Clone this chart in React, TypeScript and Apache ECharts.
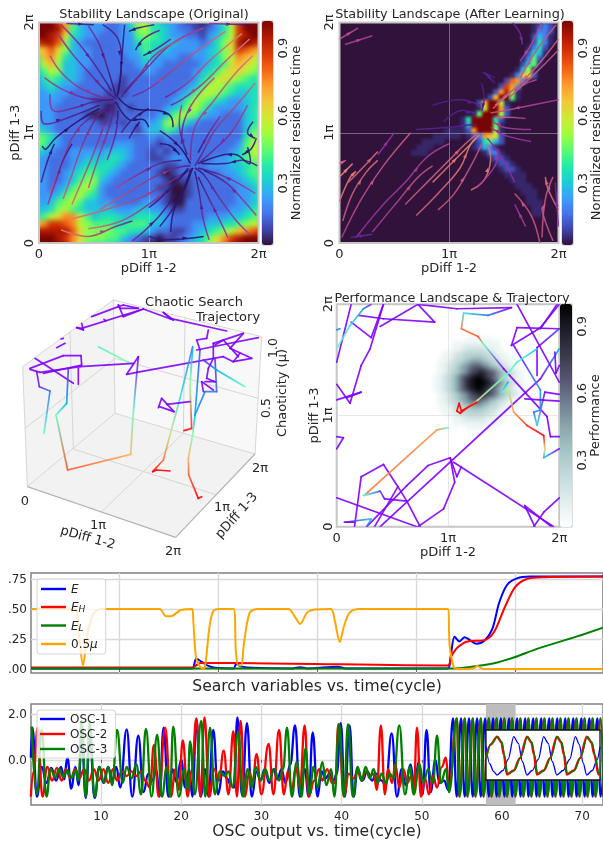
import React, { useEffect, useRef } from "react";
import * as echarts from "echarts";

const FONT = "DejaVu Sans";
const INK = "#262626";

// ---------- residence-time landscape (original): hex digits, top row first, value = digit / 15
const heatOriginal = [
  "fffd964333223578643321101469dfff",
  "fffeb64333223478554322112358dfff",
  "ffed954332223367654332213468deff",
  "deec743222223356554433323579efed",
  "9ac974332222334654433333 4579dcba".replace(" ", ""),
  "6ab8543322222335433322334578ba98",
  "58a7443322222234332222234569a987",
  "46874432222222233222223456899876",
  "35654432222212222222223568987656",
  "34543322222112222222234688765555",
  "33433222221112222222346887654455",
  "33332222111122222223468765433455",
  "33322222210121222234578643333456",
  "33322221001122222346876433222456",
  "43322222211212233478643222222456",
  "54322222222222134465322222222467",
  "76532222222222223232222222222577",
  "76432222222333222122222222223688",
  "54322333334443221212222222234688",
  "33222334445543221123322223345677",
  "33222345555432222211222233344566",
  "33223456654322222101222222334566",
  "33223467743222222210112222233456",
  "33234678632222222110012222223345",
  "33346786532222222210012222223345",
  "43467864433222233210022222223345",
  "44578654444333443321122222233456",
  "5689bb86455544555432222233344567",
  "9bddcb87666556664432223344556789",
  "eeeeec9777766554322112345678abcd",
  "fffedb97776643211011234579bdefff",
  "ffffeb865554321100112345 79cefff".replace(" ", ""),
];

// ---------- residence-time landscape (after learning): [row, first column, hex digits] on a 40 x 40 lattice
const heatLearnedLevels = [0, 0.03, 0.09, 0.16, 0.25, 0.33, 0.42, 0.5, 0.58, 0.66, 0.72, 0.78, 0.84, 0.9, 0.95, 1];
const heatLearned: [number, number, string][] = [
  [0, 35, "1232"], [1, 35, "1332"], [2, 35, "2431"], [3, 35, "2531"], [4, 34, "1352"],
  [5, 34, "2541"], [6, 33, "1362"], [7, 33, "2561"], [8, 32, "1471"], [9, 31, "13982"],
  [10, 30, "2ba3"], [11, 29, "2ca4"], [12, 28, "2ad71"], [13, 27, "29ff61"], [14, 25, "29ff71"],
  [15, 25, "18ffa2"], [16, 24, "16fff72"], [17, 22, "15ffff52"], [18, 22, "14ffff61"], [19, 22, "12afff71"],
  [20, 23, "123a982"], [21, 24, "125642"], [22, 24, "12431"], [23, 26, "1331"], [24, 27, "1221"],
  [25, 28, "1221"], [26, 29, "1221"], [27, 30, "1111"], [28, 31, "111"], [29, 32, "111"],
  [30, 33, "111"], [31, 34, "11"], [32, 34, "111"], [33, 35, "11"], [34, 35, "11"],
  [19, 19, "111"], [20, 17, "11111"], [21, 15, "1111"], [22, 14, "111"], [23, 13, "111"],
];

// ---------- performance landscape: [row, first column, hex digits] on a 60 x 60 lattice, value = digit / 15
const heatPerformance: [number, number, string][] = [
  [9, 25, "000000000011111110000000000"],
  [10, 25, "000000111111111111100000000"],
  [11, 25, "000000111222222111100000000"],
  [12, 25, "000001112233333221110000000"],
  [13, 25, "000111233444444332111000000"],
  [14, 25, "000111233445554433211100000"],
  [15, 25, "001112344567776544321110000"],
  [16, 25, "001123345779997754332110000"],
  [17, 25, "00112345779abba977543211000"],
  [18, 25, "00112344679bbddbb9764432110"],
  [19, 25, "011234579abdeedba9754321100"],
  [20, 25, "011234579bdeffedb9754321100"],
  [21, 25, "011234579bdefffedb975432110"],
  [22, 25, "011234579bdeffedb9754321100"],
  [23, 25, "011234579abdeedba9754321100"],
  [24, 25, "00112344679bbddbb9764432110"],
  [25, 25, "00112345779abba977543211000"],
  [26, 25, "001123345779997754332110000"],
  [27, 25, "001112344567776544321110000"],
  [28, 25, "000111233445554433211100000"],
  [29, 25, "000111233444444332111000000"],
  [30, 25, "000001112233333221110000000"],
  [31, 25, "000000111222222111100000000"],
  [32, 25, "000000111111111111100000000"],
  [33, 25, "000000000011111110000000000"],
];

// ---------- streamlines, in units of pi: [[speed at start, speed at end], [x, y], ...]
type Stream = number[][];
const streamsOriginal: Stream[] = [
  [[.55,.25],[.17,1.9],[.3,1.72],[.45,1.55],[.62,1.37],[.7,1.31]],
  [[.5,.2],[.2,1.98],[.37,1.8],[.52,1.6],[.66,1.38]],
  [[.45,.15],[.45,1.97],[.55,1.8],[.62,1.6],[.7,1.33]],
  [[.3,.15],[.58,1.98],[.72,1.85],[.75,1.6],[.72,1.35]],
  [[.25,.1],[.78,1.98],[.76,1.75],[.74,1.5],[.71,1.32]],
  [[.65,.4],[.1,1.7],[.2,1.55],[.35,1.42],[.55,1.33],[.68,1.3]],
  [[.6,.3],[.05,1.5],[.2,1.4],[.4,1.32],[.6,1.3]],
  [[.5,.2],[.1,1.35],[.13,1.2],[.3,1.22],[.5,1.28],[.68,1.3]],
  [[.4,.15],[.02,1.2],[.05,1.08],[.3,1.15],[.55,1.25]],
  [[.1,.1],[.03,.88],[.06,.85],[.15,.95],[.35,1.1],[.55,1.22]],
  [[.7,.25],[.1,.45],[.2,.7],[.3,.95],[.42,1.1],[.6,1.2],[.7,1.28]],
  [[.75,.3],[.22,.4],[.3,.62],[.4,.9],[.5,1.1],[.62,1.24]],
  [[.8,.3],[.3,.35],[.45,.7],[.55,.95],[.62,1.15],[.68,1.26]],
  [[.7,.3],[.45,.5],[.55,.8],[.64,1.05],[.69,1.25]],
  [[.5,.2],[.62,.75],[.7,1.0],[.72,1.2]],
  [[.3,.15],[.02,.55],[.08,.75],[.14,.9]],
  [[.55,.2],[.08,.35],[.15,.55],[.22,.75],[.3,.9]],
  [[.1,.05],[.72,1.32],[.85,1.22],[1.1,1.2],[1.2,1.15],[1.22,1.05]],
  [[.15,.05],[.7,1.28],[.82,1.12],[.95,1.12],[1.0,1.05]],
  [[.3,.1],[.75,1.0],[.85,1.12],[1,1.22]],
  [[.3,.1],[.82,.95],[.88,1.05],[.92,1.1]],
  [[.85,.3],[.3,.22],[.6,.3],[.9,.4],[1.1,.5],[1.3,.62],[1.4,.68]],
  [[.8,.25],[.45,.13],[.75,.2],[1.0,.35],[1.2,.5],[1.35,.65]],
  [[.75,.3],[.55,.3],[.8,.45],[1.05,.6],[1.25,.68],[1.38,.7]],
  [[.6,.2],[.7,.5],[.9,.62],[1.1,.72],[1.3,.75]],
  [[.85,.35],[.2,.12],[.45,.06],[.7,.15],[.85,.2]],
  [[.4,.15],[.85,.02],[.95,.1],[1.1,.25],[1.25,.45]],
  [[.25,.1],[1,.32],[1.1,.4],[1.25,.55],[1.36,.68]],
  [[.2,.08],[1.1,.15],[1.2,.28],[1.3,.45],[1.38,.66]],
  [[.15,.05],[1.2,.1],[1.23,.3],[1.33,.5],[1.4,.68]],
  [[.2,.08],[1.0,.06],[1.15,.03],[1.5,.06]],
  [[.6,.2],[1.92,.08],[1.8,.2],[1.65,.4],[1.5,.62],[1.42,.68]],
  [[.55,.2],[1.72,.05],[1.65,.2],[1.55,.4],[1.45,.6]],
  [[.5,.15],[1.55,.03],[1.5,.2],[1.46,.45],[1.42,.65]],
  [[.6,.2],[1.98,.25],[1.85,.4],[1.7,.55],[1.5,.66]],
  [[.6,.2],[1.97,.45],[1.8,.55],[1.65,.62],[1.45,.68]],
  [[.35,.1],[1.99,.7],[1.85,.75],[1.7,.72],[1.48,.72]],
  [[.2,.1],[1.9,.87],[1.92,.72],[1.8,.8],[1.68,.8],[1.45,.72]],
  [[.2,.1],[1.98,.95],[1.93,.85],[1.85,.8]],
  [[.85,.4],[1.92,1.85],[1.7,1.65],[1.5,1.45],[1.3,1.3],[1.2,1.25]],
  [[.85,.4],[1.95,1.7],[1.8,1.55],[1.6,1.3],[1.42,1.05],[1.38,.75]],
  [[.9,.4],[1.85,1.9],[1.55,1.65],[1.35,1.45],[1.15,1.32]],
  [[.8,.4],[1.7,1.92],[1.45,1.75],[1.2,1.55],[1.0,1.4],[.85,1.33]],
  [[.6,.3],[1.5,1.95],[1.2,1.8],[.95,1.55],[.8,1.4],[.75,1.32]],
  [[.7,.3],[1.3,1.85],[1.05,1.7],[.9,1.5],[.78,1.36]],
  [[.4,.15],[1.1,1.93],[.95,1.85],[.88,1.75]],
  [[.3,.1],[1.05,1.98],[.9,1.95],[.82,1.92]],
  [[.4,.15],[1.2,1.85],[1.05,1.75],[.95,1.7]],
  [[.75,.3],[1.97,1.45],[1.8,1.25],[1.6,1.02],[1.48,.8],[1.42,.7]],
  [[.6,.3],[1.9,1.25],[1.75,1.0],[1.6,.85],[1.45,.72]],
  [[.5,.2],[1.65,1.15],[1.55,1.0],[1.45,.82]],
  [[.7,.3],[1.6,1.5],[1.42,1.3],[1.32,1.1],[1.3,.9]],
  [[.6,.2],[1.3,1.25],[1.28,1.05],[1.35,.8]],
  [[.2,.05],[1.1,1.02],[1.2,.95],[1.3,.85],[1.38,.72]],
  [[.15,.05],[1.1,.9],[1.2,.88],[1.28,.8]],
  [[.3,.1],[1.95,1.1],[1.9,1.0],[1.97,.95]],
  [[.4,.2],[.25,1.99],[.5,1.98]],
  [[.55,.2],[1.55,1.99],[1.9,1.98]],
];

const streamsLearned: Stream[] = [
  [[.6,.75],[.02,.05],[.2,.4],[.4,.7],[.65,1.0]],
  [[.7,.8],[.03,.2],[.12,.45],[.25,.65],[.35,.75]],
  [[.8,.9],[0,.38],[.1,.6],[.15,.65]],
  [[.9,.85],[0,.6],[.12,.72]],
  [[.7,.8],[.08,.55],[.2,.67],[.35,.83]],
  [[.8,.7],[0,.72],[.06,.75]],
  [[.5,.6],[.15,.05],[.4,.35],[.6,.55],[.8,.78],[1.0,.9]],
  [[.55,.7],[.3,.1],[.55,.4],[.72,.6],[.85,.7]],
  [[.7,.8],[.6,.35],[.8,.55],[1,.75],[1.15,.9],[1.27,1]],
  [[.75,.85],[.7,.25],[.9,.45],[1.1,.68],[1.2,.9],[1.28,.98]],
  [[.8,.9],[.85,.55],[1.0,.7],[1.1,.8],[1.25,.95]],
  [[.7,.7],[.9,.3],[1.05,.45],[1.2,.7],[1.3,.9]],
  [[.85,.8],[1.2,.48],[1.32,.57],[1.38,.75],[1.35,.9]],
  [[.6,.5],[1.25,.5],[1.42,.7],[1.45,.85]],
  [[.5,.5],[.35,.8],[.5,1.0]],
  [[.35,.4],[.1,.05],[.3,.08]],
  [[.3,.35],[.85,1.25],[1.1,1.3],[1.28,1.25]],
  [[.3,.35],[.95,1.1],[1.1,1.2],[1.25,1.17]],
  [[.35,.3],[.7,1.03],[1.0,1.05],[1.25,1.08]],
  [[.3,.3],[1.3,1.45],[1.32,1.3],[1.3,1.2]],
  [[.25,.3],[1.3,1.55],[1.42,1.5]],
  [[.55,.85],[1.7,1.13],[1.5,1.14],[1.42,1.13]],
  [[.55,.55],[1.75,1.03],[1.5,1.05],[1.4,1.1]],
  [[.5,.5],[1.75,.92],[1.5,.98],[1.38,1.05]],
  [[.55,.7],[2,1.3],[1.75,1.25],[1.5,1.2],[1.38,1.18]],
  [[.6,.7],[1.8,1.48],[1.6,1.4],[1.42,1.25]],
  [[.7,.8],[2,1.85],[1.8,1.6],[1.6,1.4],[1.4,1.22]],
  [[.7,.7],[2,1.75],[1.8,1.55],[1.55,1.32]],
  [[.7,.7],[1.98,1.98],[1.8,1.75],[1.65,1.5]],
  [[.65,.6],[1.85,2],[1.75,1.8],[1.65,1.65]],
  [[.4,.4],[1.58,2],[1.65,1.9],[1.67,1.8]],
  [[.35,.3],[1.32,1.55],[1.42,1.45]],
  [[.7,.6],[0,1.85],[.17,1.95]],
  [[.6,.6],[.05,1.8],[.3,1.88]],
  [[.7,.7],[1.83,0],[1.75,.25],[1.6,.45]],
  [[.7,.7],[1.95,.02],[1.85,.3],[1.88,.35]],
  [[.75,.8],[2,.3],[1.9,.5],[1.88,.6]],
  [[.7,.7],[1.85,.05],[1.88,.4],[1.95,.6]],
  [[.6,.5],[1.7,.15],[1.6,.35]],
  [[.5,.4],[2,.15],[1.97,.55]],
  [[.5,.45],[1.6,.55],[1.48,.78],[1.35,.95]],
];

// ---------- trajectory over the performance landscape: [pDiff 1-2 / pi, pDiff 1-3 / pi, mu]
const trajectoryMap: number[][][] = [
  [[0,1.48,1],[.13,2,1]],
  [[.13,1.84,1],[.31,1.7,1],[.42,2,1]],
  [[.2,1.9,1],[.42,1.87,1],[.88,1.84,1],[.73,2,1],[.39,1.8,1]],
  [[.42,2,1],[.3,1.6,1],[.22,1.45,1],[.12,1.11,1],[0,1.28,1]],
  [[0,1.14,1],[.22,1.21,1],[.09,1.16,1]],
  [[0,1.6,.55],[.12,1.81,.65],[.24,1.96,.8],[.31,2,1]],
  [[0,1.77,.8],[.03,1.78,.85]],
  [[.73,2,1],[1.08,1.96,1],[1.57,1.97,1]],
  [[1.57,1.97,1],[1.36,1.9,.85],[1.14,1.92,.65],[1.12,1.78,.15],[1.27,1.71,.1],[1.32,1.64,.55],[1.5,1.42,1],[1.89,.99,1],[1.92,.81,1],[2,.81,1]],
  [[.39,0,1],[1.83,1.33,1],[2,1.6,.75]],
  [[0,.26,1],[.72,0,1]],
  [[1.02,.62,1],[1.08,.45,1],[1.12,.54,1]],
  [[1.05,.58,1],[1.95,0,1]],
  [[.73,0,1],[.96,.16,1],[1.06,.4,1],[1.02,.62,1],[.82,.55,1],[.63,.37,1],[.27,0,1]],
  [[.22,.45,1],[.42,.56,1],[.55,.36,1],[.34,0,1]],
  [[.22,.45,1],[.16,0,1]],
  [[.55,.36,1],[.63,.23,1],[.75,0,1]],
  [[1,.89,.6],[.9,.87,.2],[.28,.31,.15],[.24,.28,.55],[.39,.32,.9],[.43,.25,1],[.63,.23,1]],
  [[.07,.04,1],[.31,.07,.7],[.27,0,.9]],
  [[.07,.04,1],[.16,.04,1]],
  [[0,.81,1],[.06,.8,1],[0,.7,1]],
  [[1.69,.19,1],[1.93,0,1]],
  [[1.69,.19,1],[1.78,0,1]],
  [[2,.26,1],[1.86,.13,1],[1.77,0,1]],
  [[1.57,1.63,1],[1.62,1.79,1],[2,1.78,1]],
  [[1.62,2,1],[2,1.3,1]],
  [[1.57,1.63,1],[1.83,1.79,1],[2,2,1]],
  [[1.83,1.78,1],[1.98,2,1]],
  [[2,1.78,.9],[1.8,1.61,1],[1.8,1.36,1]],
  [[1.59,1.63,1],[1.83,1.23,.8],[1.83,1.05,.8],[1.77,1.03,.85],[1.8,.91,.65],[1.87,1.21,1],[2,1.19,1]],
  [[1.69,1.15,1],[2,1.13,1]],
  [[1.96,1.57,1],[1.97,1.38,1],[2,1.45,1]],
  [[1.54,1.24,.4],[1.59,1.03,.2],[1.71,.91,.05],[1.86,.82,0],[1.87,.7,.3],[1.86,.62,.7],[2,.7,1]],
  [[1.54,1.3,.75],[1.48,1.21,.6],[1.54,1.24,.4]],
  [[1.8,1.6,.7],[1.62,1.48,.6],[1.54,1.38,.55],[1.27,1.14,.35],[1.11,1.02,0],[1.08,1.04,0],[1.1,1.11,0],[1.12,1.04,0],[1.26,1.12,0]],
];

// ---------- 3D view: the plot plane of the box, [view x, view y, mu]
const trajectoryView: number[][][] = [
  [[275,95,1],[355,65,1],[370,60,1],[415,70,1],[360,70,1],[355,60,1],[370,95,1],[430,72,1],[245,130,1],[230,128,1],[250,135,1],[245,115,1]],
  [[430,72,1],[520,105,1],[490,82,1],[510,100,1],[680,138,1]],
  [[170,188,1],[195,175,1]],
  [[183,162,1],[190,160,1]],
  [[312,103,1],[318,108,1]],
  [[295,185,.6],[400,240,.45]],
  [[105,220,1],[220,295,1]],
  [[90,250,1],[190,212,1],[243,212,1],[245,240,1],[130,265,1]],
  [[110,260,1],[118,305,.95],[150,318,.85],[132,445,.55]],
  [[90,253,1],[120,262,1],[240,245,1],[400,235,1]],
  [[235,298,1],[235,250,1]],
  [[205,250,.95],[200,355,.75],[168,390,.55],[203,555,.1],[392,508,.25],[400,380,.55],[415,215,1],[380,268,1],[410,262,1],[670,215,1],[700,230,1]],
  [[775,158,1],[590,195,1]],
  [[625,135,1],[620,160,1],[590,165,1],[600,195,1]],
  [[578,185,.85],[540,340,.65],[510,450,.35],[490,525,.15],[458,560,0],[470,555,0],[510,558,0]],
  [[578,190,.75],[570,300,.45],[575,430,.05],[552,437,0]],
  [[600,195,.9],[585,390,.75],[578,450,.5],[565,520,.25],[566,570,.12],[595,640,0],[605,635,0]],
  [[585,390,.8],[615,320,.85],[650,320,.85],[645,220,.95]],
  [[735,305,.55],[650,255,.75],[610,225,.95]],
  [[640,175,1],[730,145,1],[690,190,1],[755,220,1],[700,230,1],[720,205,1]],
  [[640,175,1],[640,220,1],[625,250,1],[620,280,1],[645,290,1],[615,290,1]],
  [[645,180,1],[670,165,1],[715,215,1]],
  [[610,320,1],[605,290,1],[640,315,1]],
  [[475,368,1],[485,340,1],[522,380,1],[478,365,1]],
  [[500,358,1],[570,350,1]],
];

const boxFaces: number[][][] = [
  [[68,245],[340,45],[345,385],[82,605]],
  [[340,45],[785,155],[765,507],[345,385]],
  [[82,605],[345,385],[765,507],[527,757]],
];
const boxEdges: number[][] = [
  [82,605,345,385,0],[345,385,765,507,0],[345,385,340,45,0],[68,245,82,605,0],[785,155,765,507,0],
  [68,245,340,45,0],[340,45,785,155,0],[210,140,220,492,0],[555,100,550,445,0],[75,430,345,220,0],
  [345,220,775,340,0],[220,492,650,630,0],[305,680,550,445,0],[82,605,527,757,1],[527,757,765,507,1],
];

// ---------- search variables, x = cycle on the top strip's own ticks
const searchTicks = [10, 20, 30, 40, 50];
const valueTicks = [0, 0.25, 0.5, 0.75];
const muHalf = [[1.1,.5],[5.53,.5],[5.92,.3],[6.35,.03],[6.82,.3],[7.48,.47],[8.25,.5],[14.08,.5],[14.74,.44],[15.24,.44],[16.2,.49],[17.38,.5],[17.5,.4],[17.77,.1],[18.16,.02],[18.54,0],[18.74,.05],[19.13,.35],[19.5,.48],[20.1,.5],[21.57,.5],[21.8,.15],[22.04,.03],[22.35,.03],[22.6,.2],[23.2,.47],[24,.5],[27.1,.5],[27.8,.43],[28.3,.375],[29,.47],[29.8,.495],[31.4,.5],[31.8,.4],[32.3,.225],[32.7,.35],[33.3,.47],[34.3,.5],[43.2,.5],[43.4,.2],[43.8,.02],[44.2,0],[45.8,.005],[46.2,.025],[46.8,0],[58.9,0]];
const energyE = [[1.1,.005],[17.3,.005],[17.5,.01],[17.8,.085],[18.35,.06],[18.9,.03],[19.7,.01],[21.6,.005],[21.8,.04],[22.4,.02],[23.5,.01],[27.5,.005],[28.3,.015],[29,.005],[32.1,.02],[32.9,.005],[43.2,.005],[43.5,.1],[43.9,.27],[44.4,.23],[44.9,.265],[45.3,.25],[46.1,.21],[46.9,.235],[47.7,.33],[48.4,.55],[49.2,.7],[50.2,.755],[51.5,.77],[58.9,.77]];
const energyH = [[1.1,.012],[17.3,.012],[17.6,.02],[18.2,.05],[21.3,.05],[43.2,.03],[43.6,.11],[44.2,.18],[45.2,.23],[46.9,.24],[47.9,.31],[48.9,.5],[50,.68],[51.2,.75],[53.1,.765],[58.9,.77]];
const energyL = [[1.1,.005],[43.8,.005],[45.3,.015],[48,.05],[50,.1],[52.3,.17],[56.2,.27],[58.9,.345]];

// ---------- oscillator outputs
const oscTicks = [10, 20, 30, 40, 50, 60, 70];
const oscValueTicks = [0, 2];
const osc1 = [[1.25,.1],[1.45,1.4],[2,-1.6],[2.6,-.3],[3.2,-1],[3.8,-.35],[4.4,-.9],[5,-.3],[5.4,-.85],[5.8,.1],[6.3,-1.25],[6.8,-.3],[7.2,-1.1],[7.6,1],[8.1,-1.65],[8.6,1],[9.2,-1.65],[9.8,-.3],[10.3,-1],[10.9,-.3],[11.4,-.9],[11.9,-.3],[12.4,-1.2],[13.2,1.33],[13.9,-1.6],[14.65,1.05],[15.3,-1.4],[15.9,-.6],[16.4,-.9],[16.9,-.45],[17.3,-1.6],[17.8,1.4],[18.4,-1.6],[18.9,-.4],[19.4,-.95],[20,0],[20.5,-1.2],[21,-.4],[21.4,-1.6],[21.9,1.75],[22.4,-1.6],[23,-.4],[23.4,-1.6],[24,1.3],[24.6,-1.5],[25.2,-.5],[25.7,-.8],[26.2,-1.1],[26.6,-1.2],[27,1.85],[27.6,-1.55],[28.2,1.6],[28.8,-1.6],[29.4,-.5],[29.9,-.9],[30.4,-.4],[31,-1],[31.5,-.4],[32,-.85],[32.5,-.4],[33,-1],[33.6,-.2],[34.2,1.5],[34.8,-1.6],[35.4,-.4],[35.9,-1.6],[36.4,1.2],[37,-1.6],[37.5,-.5],[38,-.8],[38.5,-.6],[39,-.9],[39.4,-.6],[39.9,1.6],[40.4,-1.6],[41,1.5],[41.5,-1.6],[42,-.4],[42.6,-.9],[43.2,-.5],[43.8,-.9],[44.3,-.6],[45,-.9],[45.5,-1.1],[46.25,1.15],[46.9,-1.6],[47.5,-.4],[48,-1.1],[48.6,-.2],[49.1,-1.2],[49.6,-.1],[50.1,-1.5],[50.6,1.3],[51.1,-1.4],[51.7,0],[52.2,-1],[52.8,-.9],[53.3,-1.3],[53.9,1.8],[54.35,-1.6],[54.9,1.8],[55.35,-1.6],[55.9,1.8],[56.35,-1.6],[56.9,1.8],[57.35,-1.6],[57.9,1.8],[58.36,-1.6],[58.9,1.8],[59.33,-1.6],[59.87,1.8],[60.3,-1.6],[60.9,1.8],[61.27,-1.6],[61.9,1.8],[62.3,-1.6],[62.9,1.8],[63.3,-1.6],[63.9,1.8],[64.3,-1.6],[64.9,1.8],[65.3,-1.6],[65.9,1.8],[66.3,-1.6],[66.9,1.8],[67.3,-1.6],[67.9,1.8],[68.3,-1.6],[68.9,1.8],[69.3,-1.6],[69.9,1.8],[70.3,-1.6],[70.9,1.8],[71.3,-1.6],[71.9,1.8],[72.3,-1.6],[72.9,1.8]];
const osc2 = [[1.25,-1.6],[1.6,-.5],[2.1,1.4],[2.7,-1.6],[3.3,-.3],[3.9,-.9],[4.5,-.35],[5.1,-.9],[5.6,-.4],[6.2,-.8],[6.8,-.4],[7.3,-.8],[7.9,-.4],[8.5,-.9],[9.1,-.4],[9.7,-.9],[10.3,-.4],[10.9,-1],[11.5,-.4],[12,-.9],[12.6,-.5],[13.2,-.7],[13.8,-.5],[14.4,-.7],[15,-.5],[15.5,-.9],[16.1,-1.2],[16.6,.65],[17.2,-1.6],[18,1.4],[18.7,-1.6],[19.3,-.4],[19.7,-1.3],[20.2,.85],[20.8,-1.6],[21.3,-.5],[21.9,1.8],[22.4,-1.6],[22.9,1.85],[23.5,-1.6],[24.1,-.4],[24.7,-.9],[25.3,.4],[25.9,-1.5],[26.5,1.25],[26.95,-1.6],[27.4,1.7],[27.95,-1.6],[28.5,-.5],[28.9,-1],[29.4,.25],[30,-1.5],[30.9,.7],[31.5,-1.5],[32.2,1.3],[32.8,-1.5],[33.3,-.5],[33.8,-1.3],[34.3,-.3],[34.8,-1.2],[35.4,1.5],[35.9,-1.6],[36.6,-.9],[37.2,-.4],[37.6,-.9],[38.2,-.4],[38.8,-1],[39.2,-1],[39.6,1.55],[40.3,-1.6],[40.9,-.6],[41.5,-.8],[42,-.5],[42.5,-.9],[43,-.5],[43.5,-.7],[44,-.6],[44.4,-1.3],[44.9,1.5],[45.4,-1.5],[45.8,-.4],[46.3,-1],[46.7,-.2],[47.2,-1.2],[47.7,-.4],[48.2,-1],[48.7,-.7],[49,-1.4],[49.4,1.4],[49.9,-1.6],[50.4,-.8],[50.9,-1.5],[51.4,-.7],[51.9,-1.2],[52.5,-.3],[53,.1],[53.4,-1.2],[54.36,1.8],[54.68,-1.6],[55.36,1.8],[55.68,-1.6],[56.36,1.8],[56.68,-1.6],[57.36,1.8],[57.68,-1.6],[58.36,1.8],[58.68,-1.6],[59.33,1.8],[59.65,-1.6],[60.3,1.8],[60.62,-1.6],[61.27,1.8],[61.65,-1.6],[62.3,1.8],[62.65,-1.6],[63.3,1.8],[63.65,-1.6],[64.3,1.8],[64.65,-1.6],[65.3,1.8],[65.65,-1.6],[66.3,1.8],[66.65,-1.6],[67.3,1.8],[67.65,-1.6],[68.3,1.8],[68.65,-1.6],[69.3,1.8],[69.65,-1.6],[70.3,1.8],[70.65,-1.6],[71.3,1.8],[71.65,-1.6],[72.3,1.8],[72.65,-1.6]];
const osc3 = [[1.35,1.45],[2,-1.5],[2.6,1.3],[3.2,-1.6],[3.7,-.4],[4.3,-.75],[4.8,-.4],[5.3,-.75],[5.8,-.45],[6.3,-.8],[6.8,-.45],[7.2,-.9],[7.6,1.7],[8.1,-1.6],[8.6,1.7],[9.2,-1.6],[9.8,-.3],[10.4,-1],[10.9,-.3],[11.4,-1.1],[12,1.3],[12.7,-1],[13.2,-.3],[13.8,-.8],[14.4,-.2],[15,-1.5],[15.6,1.35],[16.3,-1.6],[17,1.1],[17.6,-1.6],[18.2,-.3],[18.6,-1.6],[19,1.45],[19.7,-1.6],[20.4,-.4],[20.8,-1.3],[21.1,.8],[21.7,-1.5],[22.5,1.7],[23,-1.6],[23.6,1.4],[24.2,-1.5],[24.8,-.5],[25.4,-.7],[25.9,-.5],[26.4,-1.2],[27.1,1.2],[27.7,-1.6],[28.3,-.4],[28.8,-1.2],[29.3,-.3],[29.9,-.9],[30.5,-.4],[31,-.9],[31.6,-.4],[32.2,-.9],[32.7,-.4],[33.2,1.4],[33.8,-1.6],[34.4,-.1],[35,-1.6],[35.5,.5],[36,-1.5],[36.5,-.3],[37,-1.2],[37.6,-.1],[38.1,-1.1],[38.7,-.4],[39.1,-1.6],[39.7,1.55],[40.3,-1.6],[40.8,1.55],[41.4,-1.6],[42,-.3],[42.5,-.9],[43,-.3],[43.5,-.8],[44,-.4],[44.5,-1],[45,-.6],[45.5,-1],[46,-.6],[46.5,-.8],[47.2,1.5],[47.9,-1.5],[48.5,-.3],[49,-1.5],[49.7,-.2],[50.2,-1],[50.8,-.4],[51.4,-1],[51.9,1.05],[52.4,-1],[53,-.4],[53.4,-1.4],[54.38,1.8],[54.7,-1.6],[55.38,1.8],[55.7,-1.6],[56.38,1.8],[56.7,-1.6],[57.38,1.8],[57.7,-1.6],[58.38,1.8],[58.7,-1.6],[59.35,1.8],[59.67,-1.6],[60.32,1.8],[60.64,-1.6],[61.29,1.8],[61.67,-1.6],[62.32,1.8],[62.67,-1.6],[63.32,1.8],[63.67,-1.6],[64.32,1.8],[64.67,-1.6],[65.32,1.8],[65.67,-1.6],[66.32,1.8],[66.67,-1.6],[67.32,1.8],[67.67,-1.6],[68.32,1.8],[68.67,-1.6],[69.32,1.8],[69.67,-1.6],[70.32,1.8],[70.67,-1.6],[71.32,1.8],[71.67,-1.6],[72.32,1.8],[72.67,-1.6]];
const insetOsc1 = [[58,.95],[58.12,-.6],[58.25,-1.3],[58.36,-1.6],[58.55,-1.2],[58.72,-.2],[58.9,1.8],[59.05,1.2],[59.18,-.4],[59.33,-1.6],[59.5,-1.2],[59.7,-.2],[59.87,1.8],[60.02,1.2],[60.15,-.4],[60.3,-1.6],[60.5,-1.2],[60.72,-.2],[60.9,1.8],[61.03,1.1],[61.15,-.5],[61.27,-1.6],[61.45,-1.2],[61.6,-.3],[61.7,.9]];
const insetOsc2 = [[58,-.1],[58.15,1.1],[58.36,1.8],[58.5,1.3],[58.58,.2],[58.68,-1.55],[58.9,-1.2],[59.1,-.1],[59.33,1.8],[59.47,1.3],[59.56,.2],[59.65,-1.55],[59.87,-1.2],[60.08,-.1],[60.3,1.8],[60.44,1.3],[60.53,.2],[60.62,-1.55],[60.85,-1.2],[61.05,-.1],[61.27,1.8],[61.42,1.3],[61.52,.2],[61.65,-1.55],[61.7,-1.4]];
const insetOsc3 = [[58,-.05],[58.16,1.15],[58.38,1.8],[58.52,1.3],[58.6,.2],[58.7,-1.5],[58.92,-1.2],[59.12,-.05],[59.35,1.8],[59.49,1.3],[59.58,.2],[59.67,-1.5],[59.89,-1.2],[60.1,-.05],[60.32,1.8],[60.46,1.3],[60.55,.2],[60.64,-1.5],[60.87,-1.2],[61.07,-.05],[61.29,1.8],[61.44,1.3],[61.54,.2],[61.67,-1.5],[61.7,-1.45]];

const piTicks: Record<number, string> = { 0: "0", 1: "1π", 2: "2π" };
const barTicks = [0.3, 0.6, 0.9];

const turboStops = ["#30123b", "#4145ab", "#4675ed", "#39a2fc", "#1bcfd4", "#24eca6", "#61fc6c", "#a4fc3b", "#d1e834", "#f3c63a", "#fe9b2d", "#f36315", "#d93806", "#b11901", "#7a0403"];
const boneStops = ["#ffffff", "#e3eeee", "#c6dcdc", "#a6c7c7", "#8aa8ae", "#70808f", "#545470", "#38384b", "#1c1c26", "#000000"];
const speedStops = ["#1a1058", "#3a1a8a", "#9030a0", "#d0607a", "#f8a060"];

const rectA = { left: 39, top: 22.5, width: 219.5, height: 220.5 };
const rectB = { left: 339.5, top: 22.5, width: 219, height: 220.5 };
const rectD = { left: 336.7, top: 304.3, width: 222.6, height: 222.4 };

const hex = (c: string) => [1, 3, 5].map((i) => parseInt(c.slice(i, i + 2), 16));
function pick(stops: string[], t: number) {
  const p = Math.max(0, Math.min(1, t)) * (stops.length - 1);
  const i = Math.min(stops.length - 2, Math.floor(p));
  const a = hex(stops[i]), b = hex(stops[i + 1]), f = p - i;
  return `rgb(${a.map((v, k) => Math.round(v + (b[k] - v) * f)).join(",")})`;
}
function rainbow(mu: number) {
  const t = 1 - mu;
  const c = [Math.abs(2 * t - 0.5), Math.sin(Math.PI * t), Math.cos((Math.PI * t) / 2)];
  return `rgb(${c.map((v) => Math.round(255 * Math.min(1, v))).join(",")})`;
}

function buildOption() {
  const grid: any[] = [], xAxis: any[] = [], yAxis: any[] = [], series: any[] = [], visualMap: any[] = [];
  const hidden = (g: number, min: number, max: number, extra: any = {}) => ({ type: "value", gridIndex: g, min, max, show: false, ...extra });
  const addGrid = (g: any, x: any, y: any) => { grid.push({ outerBoundsMode: "none", ...g }); xAxis.push({ gridIndex: grid.length - 1, ...x }); yAxis.push({ gridIndex: grid.length - 1, ...y }); return grid.length - 1; };

  const piAxes = (rect: any, yName: string, yMargin: number, yGap: number) => addGrid(
    { ...rect, show: true, backgroundColor: "transparent", borderColor: "#c4c4c4", borderWidth: 2 },
    {
      type: "value", min: 0, max: 2, interval: 1, z: 3, name: "pDiff 1-2", nameLocation: "middle", nameGap: 18,
      nameTextStyle: { fontSize: 13, color: INK },
      axisLine: { show: false }, axisTick: { show: false },
      splitLine: { show: true, lineStyle: { color: "rgba(205,205,205,.45)", width: 1 } },
      axisLabel: { fontSize: 13, color: INK, margin: 4, formatter: (v: number) => piTicks[v] ?? "", showMinLabel: true, showMaxLabel: true },
    },
    {
      type: "value", min: 0, max: 2, interval: 1, z: 3, name: yName, nameLocation: "middle", nameRotate: 90, nameGap: yGap,
      nameTextStyle: { fontSize: 13, color: INK },
      axisLine: { show: false }, axisTick: { show: false },
      splitLine: { show: true, lineStyle: { color: "rgba(205,205,205,.45)", width: 1 } },
      axisLabel: { fontSize: 13, color: INK, rotate: 90, margin: yMargin, formatter: (v: number) => piTicks[v] ?? "", verticalAlign: "middle", align: "center" },
    });
  const colorbar = (rect: any, name: string, stops: string[], min: number, max: number) => {
    visualMap.push({ type: "continuous", min: 0, max: 1, dimension: 0, seriesIndex: [], calculable: false, hoverLink: false, left: rect.left, top: rect.top, itemWidth: rect.width, itemHeight: rect.height, padding: 0, inRange: { color: stops }, realtime: false });
    addGrid({ ...rect, show: true, backgroundColor: "transparent", borderColor: "#bdbdbd", borderWidth: 1 },
      hidden(0, 0, 1, { gridIndex: grid.length }),
      {
        type: "value", min, max, position: "right", name, nameLocation: "middle", nameRotate: 90, nameGap: 16,
        nameTextStyle: { fontSize: 13, color: INK },
        axisLine: { show: false }, splitLine: { show: false },
        axisTick: { show: true, length: 2, lineStyle: { color: "#888" }, customValues: barTicks },
        axisLabel: { fontSize: 13, color: INK, rotate: 90, margin: 9, align: "center", verticalAlign: "middle", customValues: barTicks, formatter: (v: number) => v.toFixed(1) },
      });
  };
  const addStreams = (g: number, list: Stream[]) => series.push({
    type: "custom", xAxisIndex: g, yAxisIndex: g, silent: true, z: 4, clip: true,
    encode: { x: 0, y: 1 }, data: list.map((s, i) => [s[1][0], s[1][1], i]),
    renderItem: (p: any, api: any) => {
      const s = list[p.dataIndex];
      const pts = s.slice(1).map((q) => api.coord(q));
      const a = pts[0], b = pts[pts.length - 1];
      const c0 = pick(speedStops, s[0][0]), c1 = pick(speedStops, s[0][1]);
      const k = Math.floor((pts.length - 1) / 2);
      const m = [(pts[k][0] + pts[k + 1][0]) / 2, (pts[k][1] + pts[k + 1][1]) / 2];
      const ang = Math.atan2(pts[k + 1][1] - pts[k][1], pts[k + 1][0] - pts[k][0]);
      const tri = [0, 2.5, -2.5].map((o, i) => i === 0
        ? [m[0] + Math.cos(ang) * 3, m[1] + Math.sin(ang) * 3]
        : [m[0] - Math.cos(ang) * 2 + Math.cos(ang + Math.PI / 2) * o / 1.4, m[1] - Math.sin(ang) * 2 + Math.sin(ang + Math.PI / 2) * o / 1.4]);
      return {
        type: "group", children: [
          { type: "polyline", shape: { points: pts, smooth: 0.4 }, style: { fill: "none", lineWidth: 1.5, opacity: 0.9, stroke: new echarts.graphic.LinearGradient(a[0], a[1], b[0], b[1], [{ offset: 0, color: c0 }, { offset: 1, color: c1 }], true) } },
          { type: "polygon", shape: { points: tri }, style: { fill: pick(speedStops, (s[0][0] + s[0][1]) / 2) } },
        ],
      };
    },
  });
  const addTrajectory = (g: number, paths: number[][][], clip: boolean) => {
    const rows = paths.flatMap((path, i) => path.map((q) => [q[0], q[1], q[2], i]));
    series.push({
      type: "custom", xAxisIndex: g, yAxisIndex: g, silent: true, z: 5, clip,
      encode: { x: 0, y: 1 }, data: rows,
      renderItem: (p: any, api: any) => {
        const a = rows[p.dataIndex], b = rows[p.dataIndex + 1];
        if (!b || a[3] !== b[3]) return null;
        const s = api.coord([a[0], a[1]]), e = api.coord([b[0], b[1]]);
        const stroke = a[2] === b[2] ? rainbow(a[2]) : new echarts.graphic.LinearGradient(s[0], s[1], e[0], e[1], [{ offset: 0, color: rainbow(a[2]) }, { offset: 1, color: rainbow(b[2]) }], true);
        return { type: "line", shape: { x1: s[0], y1: s[1], x2: e[0], y2: e[1] }, style: { stroke, lineWidth: 1.7, lineCap: "round", opacity: 0.9 } };
      },
    });
  };

  // panel A
  const gA = piAxes(rectA, "pDiff 1-3", 11, 18);
  addStreams(gA, streamsOriginal);
  colorbar({ left: 262, top: 21, width: 11, height: 224 }, "Normalized residence time", turboStops, 0.026, 1.02);

  // panel B
  const gB = piAxes(rectB, "", 11, 18);
  addStreams(gB, streamsLearned);
  colorbar({ left: 562, top: 21, width: 11, height: 224 }, "Normalized residence time", turboStops, 0.026, 1.02);

  // panel C (view plane of the box)
  const gC = addGrid({ left: 0, top: 285, width: 300, height: 280, show: false }, hidden(grid.length, 0, 900), hidden(grid.length, 0, 840, { inverse: true }));
  series.push({
    type: "custom", xAxisIndex: gC, yAxisIndex: gC, silent: true, z: 1, clip: false, encode: { x: 0, y: 1 },
    data: boxFaces.map((f, i) => [f[0][0], f[0][1], i]),
    renderItem: (p: any, api: any) => ({ type: "polygon", shape: { points: boxFaces[p.dataIndex].map((q) => api.coord(q)) }, style: { fill: ["#f3f3f3", "#f8f8f8", "#f2f2f2"][p.dataIndex] } }),
  });
  series.push({
    type: "custom", xAxisIndex: gC, yAxisIndex: gC, silent: true, z: 2, clip: false, encode: { x: 0, y: 1 },
    data: boxEdges,
    renderItem: (p: any, api: any) => {
      const e = boxEdges[p.dataIndex], s = api.coord([e[0], e[1]]), t = api.coord([e[2], e[3]]);
      return { type: "line", shape: { x1: s[0], y1: s[1], x2: t[0], y2: t[1] }, style: { stroke: e[4] ? "#b4b4b4" : "#d6d6d6", lineWidth: e[4] ? 1.2 : 1 } };
    },
  });
  addTrajectory(gC, trajectoryView, false);

  // panel D
  const gD = piAxes(rectD, "pDiff 1-3", 9, 16);
  addTrajectory(gD, trajectoryMap, true);
  colorbar({ left: 560, top: 304, width: 12, height: 223 }, "Performance", boneStops, 0, 1);

  // panel E
  const lineBase = { type: "line", showSymbol: false, silent: true, smooth: 0.45, smoothMonotone: "x", clip: true };
  const stripX = (min: number, max: number, ticks: number[], labels: boolean) => ({
    type: "value", min, max,
    axisLine: { show: false },
    axisTick: { show: true, length: 3, customValues: ticks, lineStyle: { color: "#666" } },
    splitLine: { show: true, customValues: ticks, lineStyle: { color: "#d8d8d8", width: 1.3 } },
    axisLabel: labels ? { fontSize: 12, color: INK, margin: 5, customValues: ticks, formatter: (v: number) => String(v) } : { show: false },
  });
  const stripY = (min: number, max: number, ticks: number[], fmt: (v: number) => string) => ({
    type: "value", min, max,
    axisLine: { show: false },
    axisTick: { show: false, customValues: ticks },
    splitLine: { show: true, customValues: ticks, lineStyle: { color: "#d8d8d8", width: 1.3 } },
    axisLabel: { fontSize: 12, color: INK, margin: 4, customValues: ticks, formatter: fmt },
  });
  const frame = { show: true, backgroundColor: "#fff", borderColor: "#808080", borderWidth: 1.5 };
  const gE = addGrid({ left: 31, top: 573, width: 572, height: 100, ...frame }, stripX(1.1, 58.9, searchTicks, false),
    stripY(-0.033, 0.8, valueTicks, (v) => v.toFixed(2).replace(/^0/, "")));
  ([["E", energyE, "#0000ff"], ["EH", energyH, "#ff0000"], ["EL", energyL, "#008000"], ["0.5μ", muHalf, "#ffa500"]] as any[]).forEach(([name, data, color]) =>
    series.push({ ...lineBase, smooth: 0.3, smoothMonotone: undefined, name, data, xAxisIndex: gE, yAxisIndex: gE, z: 3, itemStyle: { color }, lineStyle: { color, width: 2 } }));

  // panel F
  const gF = addGrid({ left: 31, top: 704, width: 572, height: 101, ...frame }, stripX(1.27, 72.6, oscTicks, true),
    stripY(-1.96, 2.43, oscValueTicks, (v) => v.toFixed(1)));
  series.push({
    type: "line", data: [[58, 0]], xAxisIndex: gF, yAxisIndex: gF, showSymbol: false, silent: true, z: 1, lineStyle: { opacity: 0 },
    markArea: { silent: true, itemStyle: { color: "#bdbdbd" }, data: [[{ xAxis: 58 }, { xAxis: 61.7 }]] },
  });
  ([["OSC-1", osc1, "#0000ff"], ["OSC-2", osc2, "#ff0000"], ["OSC-3", osc3, "#008000"]] as any[]).forEach(([name, data, color]) =>
    series.push({ ...lineBase, name, data, xAxisIndex: gF, yAxisIndex: gF, z: 3, itemStyle: { color }, lineStyle: { color, width: 2.3 } }));

  // inset
  const gI = addGrid({ left: 486, top: 730, width: 114, height: 50, show: false }, hidden(grid.length, 58, 61.7), hidden(grid.length, -2.04, 2.39));
  series.push({
    type: "custom", xAxisIndex: gI, yAxisIndex: gI, silent: true, z: 10, clip: false, encode: { x: 0, y: 1 }, data: [[58, 2.39, 61.7, -2.04]],
    renderItem: (_p: any, api: any) => {
      const a = api.coord([58, 2.39]), b = api.coord([61.7, -2.04]);
      return { type: "rect", shape: { x: a[0], y: a[1], width: b[0] - a[0], height: b[1] - a[1] }, style: { fill: "#fff", stroke: "#111", lineWidth: 1.3 } };
    },
  });
  ([[insetOsc1, "#0000ff", 1.3], [insetOsc2, "#ff0000", 2.4], [insetOsc3, "#008000", 1.4]] as any[]).forEach(([data, color, width]) =>
    series.push({ ...lineBase, smooth: 0.3, data, xAxisIndex: gI, yAxisIndex: gI, z: 11, lineStyle: { color, width } }));

  const legendBase = { orient: "vertical", selectedMode: false, icon: "rect", itemWidth: 25, itemHeight: 2.4, backgroundColor: "rgba(255,255,255,.8)", borderColor: "#d4d4d4", borderWidth: 1, borderRadius: 3, z: 6 };

  const label3D = (text: string, x: number, y: number, fontSize = 13, rotation = 0) => ({
    type: "text", x, y, rotation, z: 20, silent: true,
    style: { text, fontSize, fontFamily: FONT, fill: INK, align: "center", verticalAlign: "middle" },
  });
  const titleOf = (text: string, left: number, top: number, fontSize = 12.8) => ({
    text, left, top, padding: 0, textAlign: "center", textStyle: { fontSize, fontWeight: "normal", color: INK },
  });

  return {
    animation: false,
    backgroundColor: "transparent",
    textStyle: { fontFamily: FONT },
    grid, xAxis, yAxis, series, visualMap,
    title: [
      titleOf("Stability Landscape (Original)", 154, 7),
      titleOf("Stability Landscape (After Learning)", 450, 7),
      titleOf("Performance Landscape & Trajectory", 452, 291),
      titleOf("Search variables vs. time(cycle)", 317, 678, 15.6),
      titleOf("OSC output vs. time(cycle)", 317, 823, 15.6),
    ],
    legend: [
      {
        ...legendBase, left: 37, top: 579, itemGap: 6, padding: [4, 8, 4, 4], data: ["E", "EH", "EL", "0.5μ"],
        formatter: (n: string) => ({ E: "{i|E}", EH: "{i|E}{s|H}", EL: "{i|E}{s|L}", "0.5μ": "0.5{i|μ}" } as any)[n],
        textStyle: { fontSize: 12, color: INK, rich: { i: { fontStyle: "italic", fontSize: 12, color: INK }, s: { fontStyle: "italic", fontSize: 9, color: INK, verticalAlign: "bottom", padding: [4, 0, 0, 0] } } },
      },
      {
        ...legendBase, left: 37, top: 710, itemGap: 3, padding: [3, 8, 3, 3], data: ["OSC-1", "OSC-2", "OSC-3"],
        textStyle: { fontSize: 12, color: INK },
      },
    ],
    graphic: [
      label3D("Chaotic Search", 194, 301),
      label3D("Trajectory", 228, 316),
      label3D("1.0", 272, 348, 12.5, Math.PI / 2),
      label3D("0.5", 265, 408, 12.5, Math.PI / 2),
      label3D("Chaoticity (μ)", 281, 393, 13, Math.PI / 2),
      label3D("0", 25, 500),
      label3D("1π", 98, 524),
      label3D("2π", 173, 550),
      label3D("pDiff 1-2", 88, 537, 13, -0.27),
      label3D("2π", 260, 467),
      label3D("1π", 222, 506),
      label3D("pDiff 1-3", 236, 515, 13, 0.85),
    ],
  };
}

// A landscape drawn under the axes, softened so that its lattice does not show.
function HeatLayer({ rect, n, cells, stops, blur, scale }: { rect: any; n: number; cells: number[][]; stops: string[]; blur: number; scale: number }) {
  const ref = useRef<HTMLDivElement>(null);
  useEffect(() => {
    const chart = echarts.init(ref.current!, undefined, { renderer: "svg" });
    const cats = Array.from({ length: n }, (_, i) => String(i));
    chart.setOption({
      animation: false,
      grid: { left: 0, top: 0, right: 0, bottom: 0, outerBoundsMode: "none" },
      xAxis: { type: "category", data: cats, show: false },
      yAxis: { type: "category", data: cats, show: false, inverse: true },
      visualMap: { type: "continuous", min: 0, max: 1, dimension: 2, show: false, inRange: { color: stops } },
      series: [{ type: "heatmap", data: cells, silent: true, progressive: 0 }],
    } as any);
    return () => chart.dispose();
  }, []);
  return (
    <div style={{ position: "absolute", ...rect, overflow: "hidden", background: pick(stops, 0) }}>
      <div ref={ref} style={{ width: rect.width, height: rect.height, filter: `blur(${blur}px)`, transform: `scale(${scale})` }} />
    </div>
  );
}

const cellsOriginal = heatOriginal.flatMap((row, r) => row.split("").map((d, c) => [c, r, parseInt(d, 16) / 15]));
const cellsLearned = heatLearned.flatMap(([r, c0, s]) => s.split("").map((d, i) => [c0 + i, r, heatLearnedLevels[parseInt(d, 16)]]));
const cellsPerformance = heatPerformance.flatMap(([r, c0, s]) => s.split("").map((d, i) => [c0 + i, r, parseInt(d, 16) / 15]));

export default function App() {
  const ref = useRef<HTMLDivElement>(null);
  useEffect(() => {
    const chart = echarts.init(ref.current!, undefined, { renderer: "svg" });
    chart.setOption(buildOption() as any);
    return () => chart.dispose();
  }, []);
  return (
    <div style={{ position: "absolute", left: 0, top: 0, width: 603, height: 843, overflow: "hidden", background: "#fff" }}>
      <HeatLayer rect={rectA} n={32} cells={cellsOriginal} stops={turboStops} blur={2.5} scale={1.05} />
      <HeatLayer rect={rectB} n={40} cells={cellsLearned} stops={turboStops} blur={1.8} scale={1} />
      <HeatLayer rect={rectD} n={60} cells={cellsPerformance} stops={boneStops} blur={2} scale={1} />
      <div ref={ref} style={{ position: "absolute", left: 0, top: 0, width: 603, height: 843, filter: "blur(0.45px)" }} />
    </div>
  );
}
